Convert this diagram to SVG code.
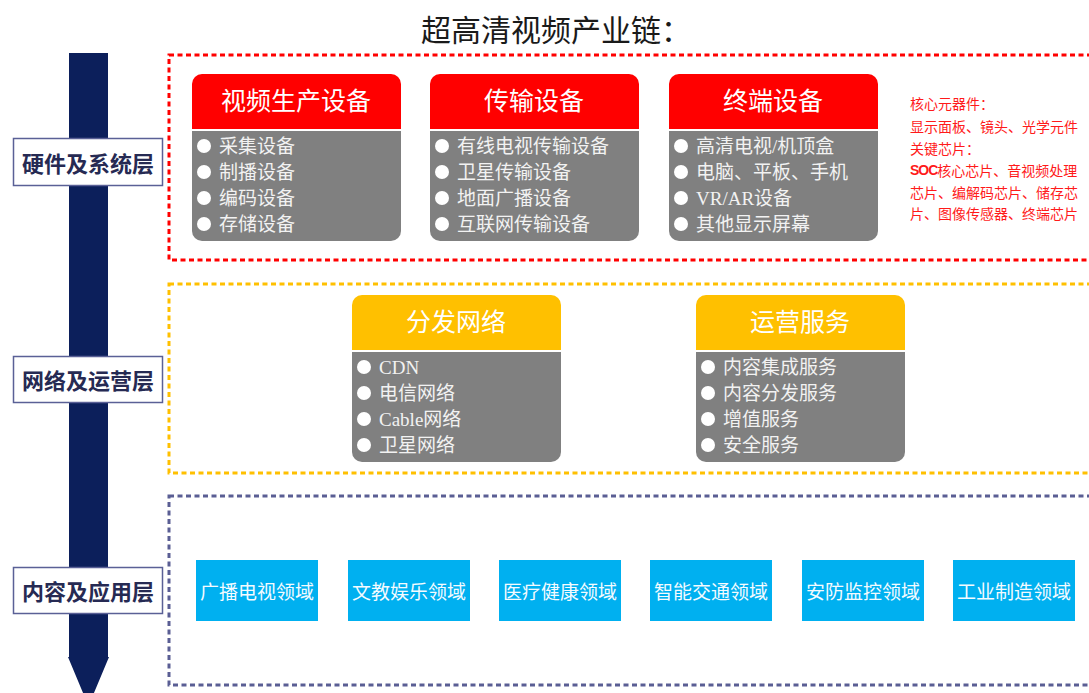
<svg xmlns="http://www.w3.org/2000/svg" xmlns:xlink="http://www.w3.org/1999/xlink" width="1089" height="693" viewBox="0 0 1089 693">
<style>
.title{font-family:"Liberation Serif","Noto Sans CJK SC",serif;font-size:30px;fill:#1a1a1a;text-anchor:middle;dominant-baseline:central}
.lbl{font-family:"Noto Sans CJK SC",sans-serif;font-size:22px;font-weight:bold;fill:#262a53;text-anchor:middle;dominant-baseline:central}
.lblbox{fill:#fff;stroke:#5a6096;stroke-width:1.5}
.hdr{font-family:"Liberation Serif","Noto Sans CJK SC",serif;font-size:25px;fill:#fff;text-anchor:middle;dominant-baseline:central}
.item{font-family:"Liberation Serif","Noto Sans CJK SC",serif;font-size:19px;fill:#f2f2f2;dominant-baseline:central}
.dot{fill:#fff}
.side{font-family:"Noto Sans CJK SC",sans-serif;font-size:14px;fill:#ff1a1a;dominant-baseline:central}
.soc{font-family:"Liberation Sans",sans-serif;font-weight:bold;letter-spacing:-1px}
.dash{fill:none;stroke-width:3;stroke-dasharray:5 3.5}
.blue{fill:#00b0f0}
.btxt{font-family:"Noto Sans CJK SC",sans-serif;font-size:19px;fill:#f4fbff;text-anchor:middle;dominant-baseline:central}
</style>
<defs>
<g id="cardRed">
<path d="M0,55 V10 A10,10 0 0 1 10,0 H199 A10,10 0 0 1 209,10 V55 Z" fill="#ff0000"/>
<path d="M0,57 H209 V157 A10,10 0 0 1 199,167 H10 A10,10 0 0 1 0,157 Z" fill="#808080"/>
<circle class="dot" cx="12" cy="72" r="7"/><circle class="dot" cx="12" cy="98" r="7"/><circle class="dot" cx="12" cy="124" r="7"/><circle class="dot" cx="12" cy="150" r="7"/>
</g>
<g id="cardYel">
<path d="M0,55 V10 A10,10 0 0 1 10,0 H199 A10,10 0 0 1 209,10 V55 Z" fill="#ffc000"/>
<path d="M0,57 H209 V157 A10,10 0 0 1 199,167 H10 A10,10 0 0 1 0,157 Z" fill="#808080"/>
<circle class="dot" cx="12" cy="72" r="7"/><circle class="dot" cx="12" cy="98" r="7"/><circle class="dot" cx="12" cy="124" r="7"/><circle class="dot" cx="12" cy="150" r="7"/>
</g>
</defs>
<rect width="1089" height="693" fill="#fff"/>
<text class="title" x="556" y="30">超高清视频产业链：</text>

<g id="axis">
<polygon points="69,53 108,53 108,657 109,657 88.5,706 68,657 69,657" fill="#0c1f5b"/>
</g>

<g id="layer-frames">
<rect class="dash" x="169" y="55" width="930" height="205" stroke="#ff0000"/>
<rect class="dash" x="169" y="284" width="930" height="189" stroke="#ffc000"/>
<rect class="dash" x="169" y="496" width="930" height="189" stroke="#5a5e94"/>
</g>

<g id="label-hw"><rect class="lblbox" x="13.5" y="138.5" width="149" height="47"/><text class="lbl" x="88" y="162">硬件及系统层</text></g>
<g id="label-net"><rect class="lblbox" x="13.5" y="356.5" width="149" height="46"/><text class="lbl" x="88" y="379">网络及运营层</text></g>
<g id="label-app"><rect class="lblbox" x="13.5" y="567.5" width="149" height="46"/><text class="lbl" x="88" y="590">内容及应用层</text></g>

<g id="node-production">
<use xlink:href="#cardRed" href="#cardRed" x="192" y="74"/>
<text class="hdr" x="296" y="101">视频生产设备</text>
<text class="item" x="219" y="146">采集设备</text>
<text class="item" x="219" y="172">制播设备</text>
<text class="item" x="219" y="198">编码设备</text>
<text class="item" x="219" y="224">存储设备</text>
</g>
<g id="node-transmission">
<use xlink:href="#cardRed" href="#cardRed" x="430" y="74"/>
<text class="hdr" x="534" y="101">传输设备</text>
<text class="item" x="457" y="146">有线电视传输设备</text>
<text class="item" x="457" y="172">卫星传输设备</text>
<text class="item" x="457" y="198">地面广播设备</text>
<text class="item" x="457" y="224">互联网传输设备</text>
</g>
<g id="node-terminal">
<use xlink:href="#cardRed" href="#cardRed" x="669" y="74"/>
<text class="hdr" x="773" y="101">终端设备</text>
<text class="item" x="696" y="146">高清电视/机顶盒</text>
<text class="item" x="696" y="172">电脑、平板、手机</text>
<text class="item" x="696" y="198">VR/AR设备</text>
<text class="item" x="696" y="224">其他显示屏幕</text>
</g>
<g id="node-components">
<text class="side" x="910" y="103">核心元器件：</text>
<text class="side" x="910" y="126">显示面板、镜头、光学元件</text>
<text class="side" x="910" y="148">关键芯片：</text>
<text class="side" x="910" y="170"><tspan class="soc">SOC</tspan>核心芯片、音视频处理</text>
<text class="side" x="910" y="192">芯片、编解码芯片、储存芯</text>
<text class="side" x="910" y="213">片、图像传感器、终端芯片</text>
</g>

<g id="node-distribution">
<use xlink:href="#cardYel" href="#cardYel" x="352" y="295"/>
<text class="hdr" x="456" y="322">分发网络</text>
<text class="item" x="379" y="367">CDN</text>
<text class="item" x="379" y="393">电信网络</text>
<text class="item" x="379" y="419">Cable网络</text>
<text class="item" x="379" y="445">卫星网络</text>
</g>
<g id="node-operation">
<use xlink:href="#cardYel" href="#cardYel" x="696" y="295"/>
<text class="hdr" x="800" y="322">运营服务</text>
<text class="item" x="723" y="367">内容集成服务</text>
<text class="item" x="723" y="393">内容分发服务</text>
<text class="item" x="723" y="419">增值服务</text>
<text class="item" x="723" y="445">安全服务</text>
</g>

<g id="node-broadcast"><rect class="blue" x="196" y="560" width="122" height="61"/><text class="btxt" x="257" y="590">广播电视领域</text></g>
<g id="node-education"><rect class="blue" x="348" y="560" width="122" height="61"/><text class="btxt" x="409" y="590">文教娱乐领域</text></g>
<g id="node-medical"><rect class="blue" x="499" y="560" width="122" height="61"/><text class="btxt" x="560" y="590">医疗健康领域</text></g>
<g id="node-traffic"><rect class="blue" x="650" y="560" width="122" height="61"/><text class="btxt" x="711" y="590">智能交通领域</text></g>
<g id="node-security"><rect class="blue" x="802" y="560" width="122" height="61"/><text class="btxt" x="863" y="590">安防监控领域</text></g>
<g id="node-industry"><rect class="blue" x="953" y="560" width="122" height="61"/><text class="btxt" x="1014" y="590">工业制造领域</text></g>

<g id="connectors"></g>
</svg>
